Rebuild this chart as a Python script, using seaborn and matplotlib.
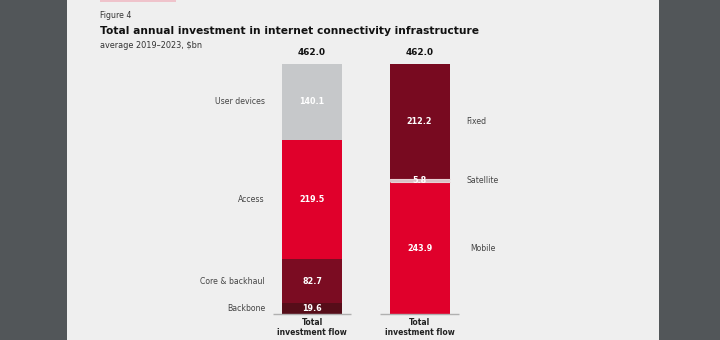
import matplotlib
matplotlib.use("Agg")
import matplotlib.pyplot as plt
import seaborn as sns
from matplotlib.patches import Rectangle

# ---- data ----
bar_keys = ["layer", "technology"]
tick_labels = ["Total\ninvestment flow", "Total\ninvestment flow"]
totals = [462.0, 462.0]

layer_names = ["Backbone", "Core & backhaul", "Access", "User devices"]
layer_values = [19.6, 82.7, 219.5, 140.1]
layer_colors = ["#560d19", "#7b0c22", "#e0002b", "#c6c8ca"]

tech_names = ["Mobile", "Satellite", "Fixed"]
tech_values = [243.9, 5.8, 212.2]
tech_colors = ["#e0002b", "#d9c3c8", "#780a20"]

sns.set_theme(style="white")
plt.rcParams["font.family"] = ["DejaVu Sans"]

W, H = 720, 340
fig = plt.figure(figsize=(W / 100, H / 100), dpi=100, facecolor="#525659")
# page
fig.patches.append(Rectangle((67 / W, 0), (659 - 67) / W, 1, transform=fig.transFigure,
                             facecolor="#efefef", edgecolor="none", zorder=-5))
fig.patches.append(Rectangle((100 / W, 1 - 2 / H), 76 / W, 2 / H, transform=fig.transFigure,
                             facecolor="#efc3cb", edgecolor="none", zorder=-4))

fig.text(100 / W, 1 - 16 / H, "Figure 4", fontsize=5.6, color="#333333", va="center")
fig.text(100 / W, 1 - 31 / H, "Total annual investment in internet connectivity infrastructure",
         fontsize=7.7, fontweight="bold", color="#111111", va="center")
fig.text(100 / W, 1 - 46 / H, "average 2019\u20132023, $bn", fontsize=5.9, color="#333333", va="center")

# axes: category 0 centre at 312px, category 1 at 419.5px; y 0..462 -> 314..64 px
unit = 107.5
ax_left = 312 - unit * 0.5
ax = fig.add_axes([ax_left / W, (H - 314) / H, 2 * unit / W, 250 / H])
ax.set_zorder(5)
ax.set_facecolor("none")

bw = 60 / unit

def stack(key, names, values, colors, side):
    bottom = 0.0
    pos = bar_keys.index(key)
    for name, val, col in zip(names, values, colors):
        sns.barplot(x=[key], y=[val], order=bar_keys, bottom=bottom, color=col,
                    width=bw, ax=ax, saturation=1, linewidth=0)
        mid = bottom + val / 2
        ax.text(pos, mid, f"{val:.1f}", ha="center", va="center", color="white",
                fontsize=5.8, fontweight="bold", zorder=10)
        if side == "left":
            ax.text(pos - 0.437, mid, name, ha="right", va="center", fontsize=5.6,
                    color="#444444", clip_on=False)
        else:
            dx = 0.475 if name == "Mobile" else 0.435
            ax.text(pos + dx, mid, name, ha="left", va="center", fontsize=5.6,
                    color="#444444", clip_on=False)
        bottom += val
    return bottom

stack("layer", layer_names, layer_values, layer_colors, "left")
stack("technology", tech_names, tech_values, tech_colors, "right")

# separators around satellite
sat_bottom = tech_values[0]
for yv in [sat_bottom, sat_bottom + tech_values[1]]:
    ax.hlines(yv, 1 - bw / 2, 1 + bw / 2, color="#e8d0d4", lw=0.8, zorder=5)

for i, t in enumerate(totals):
    ax.text(i, t + 22, f"{t:.1f}", ha="center", va="center", fontsize=6.4,
            fontweight="bold", color="#111111", clip_on=False)
    ax.hlines(0, i - 0.367, i + 0.367, color="#b0b0b0", lw=1.0, zorder=6, clip_on=False)

ax.set_xlim(-0.5, 1.5)
ax.set_ylim(0, 462)
ax.set_xticks([0, 1])
ax.set_xticklabels(tick_labels, fontsize=5.5, fontweight="bold", color="#222222",
                   linespacing=1.15)
ax.tick_params(axis="x", length=0, pad=3)
ax.set_yticks([])
ax.set_xlabel("")
ax.set_ylabel("")
sns.despine(ax=ax, left=True, bottom=True)

fig.savefig("out.png", dpi=100, facecolor=fig.get_facecolor())
